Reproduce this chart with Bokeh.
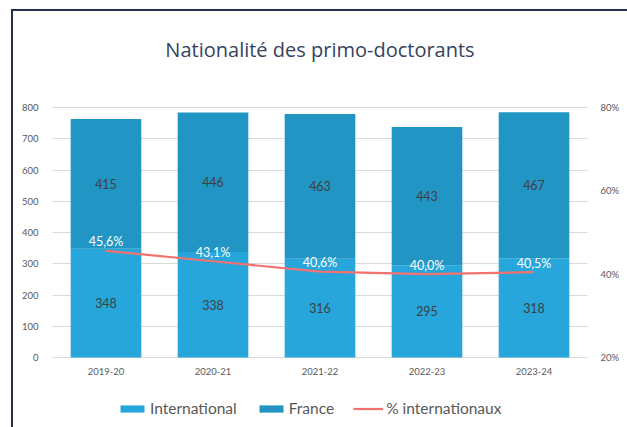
from bokeh.plotting import figure
from bokeh.models import (ColumnDataSource, Range1d, LinearAxis, FactorRange,
                          NumeralTickFormatter, FixedTicker, Legend, LegendItem,
                          Label, LabelSet)
from bokeh.core.properties import value
from bokeh.embed import file_html
from bokeh.resources import INLINE

years = ["2019-20", "2020-21", "2021-22", "2022-23", "2023-24"]
international = [348, 338, 316, 295, 318]
france = [415, 446, 463, 443, 467]
pct_intl = [45.6, 43.1, 40.6, 40.0, 40.5]
pct_labels = ["45,6%", "43,1%", "40,6%", "40,0%", "40,5%"]
left_ticks = [0, 100, 200, 300, 400, 500, 600, 700, 800]
right_ticks = [0.2, 0.4, 0.6, 0.8]

C_INT = "#26A6DB"
C_FR = "#2196C4"
C_LINE = "#F5716F"
TXT = "#595959"
FONT = "Lato"

# layout: the frame spans the full canvas height; value axis 0..800 is
# mapped to pixel rows 107..357 of a 427 px canvas
W, H = 627, 427
PX_TOP, PX_ZERO = 107, 357
UPP = 800 / (PX_ZERO - PX_TOP)          # data units per pixel
Y_TOP = 800 + PX_TOP * UPP
Y_BOT = -(H - PX_ZERO) * UPP
def to_pct(y):
    return 0.2 + y * 0.6 / 800

src = ColumnDataSource(dict(
    year=years,
    international=international,
    france=france,
    int_mid=[v / 2 for v in international],
    fr_mid=[a + b / 2 for a, b in zip(international, france)],
    int_txt=[str(v) for v in international],
    fr_txt=[str(v) for v in france],
    pct=[v / 100 for v in pct_intl],
    pct_txt=pct_labels,
    zero=[0] * len(years),
))

p = figure(x_range=FactorRange(*years), y_range=Range1d(Y_BOT, Y_TOP),
           width=W, height=H, output_backend="svg", toolbar_location=None,
           title_location=None,
           min_border_left=52, min_border_right=40, min_border_top=0,
           min_border_bottom=0)
p.styles = {"background": "linear-gradient(#27304b, #27304b) 11px 9px / 2px 100% no-repeat, "
                          "linear-gradient(#27304b, #27304b) 11px 9px / 100% 2px no-repeat, white"}
p.border_fill_color = None
p.background_fill_color = None
p.outline_line_color = None
p.extra_y_ranges = {"pct": Range1d(to_pct(Y_BOT), to_pct(Y_TOP))}

bars = p.vbar_stack(["international", "france"], x="year", width=0.66,
                    color=[C_INT, C_FR], source=src, line_color=None)
line = p.line(x="year", y="pct", source=src, y_range_name="pct",
              line_color=C_LINE, line_width=2.2)

# axes
p.xaxis.visible = False
p.yaxis.ticker = FixedTicker(ticks=left_ticks)
ax = p.yaxis[0]
ax.axis_line_color = None
ax.major_tick_line_color = None
ax.minor_tick_line_color = None
ax.major_label_text_font = FONT
ax.major_label_text_font_size = "9.5px"
ax.major_label_text_color = TXT
ax.major_label_standoff = 8

rax = LinearAxis(y_range_name="pct", ticker=FixedTicker(ticks=right_ticks),
                 formatter=NumeralTickFormatter(format="0%"))
rax.axis_line_color = None
rax.major_tick_line_color = None
rax.minor_tick_line_color = None
rax.major_label_text_font = FONT
rax.major_label_text_font_size = "9.5px"
rax.major_label_text_color = TXT
rax.major_label_standoff = 7
p.add_layout(rax, "right")

p.xgrid.grid_line_color = None
p.ygrid.grid_line_color = "#d9d9d9"
p.ygrid.ticker = FixedTicker(ticks=left_ticks)

# category labels under the bars
p.add_layout(LabelSet(x="year", y="zero", text="year", source=src,
                      y_offset=-14, text_align="center", text_baseline="middle",
                      text_font=value(FONT), text_font_size="9.5px",
                      text_color=TXT))

# data labels
for col, ycol in [("int_txt", "int_mid"), ("fr_txt", "fr_mid")]:
    p.add_layout(LabelSet(x="year", y=ycol, text=col, source=src,
                          text_align="center", text_baseline="middle",
                          text_font=value(FONT), text_font_size="12.5px",
                          text_color="#404040"))
p.add_layout(LabelSet(x="year", y="pct", text="pct_txt", source=src,
                      y_range_name="pct", y_offset=9,
                      text_align="center", text_baseline="middle",
                      text_font=value(FONT), text_font_size="12.5px",
                      text_color="white"))

# title
p.add_layout(Label(x=2.5, y=800 + (PX_TOP - 49) * UPP,
                   text="Nationalité des primo-doctorants",
                   text_align="center", text_baseline="middle",
                   text_font="Open Sans", text_font_size="20px",
                   text_color="#354360"))

legend = Legend(items=[
    LegendItem(label="International", renderers=[bars[0]]),
    LegendItem(label="France", renderers=[bars[1]]),
    LegendItem(label="% internationaux", renderers=[line]),
], orientation="horizontal", location=(65, 10), glyph_width=30,
    glyph_height=9, label_text_font=FONT, label_text_font_size="15.5px",
    label_text_color=TXT, border_line_color=None, background_fill_alpha=0,
    padding=0, margin=0, spacing=19, label_standoff=3)
p.add_layout(legend)

open("out.html", "w").write(file_html(p, INLINE))
